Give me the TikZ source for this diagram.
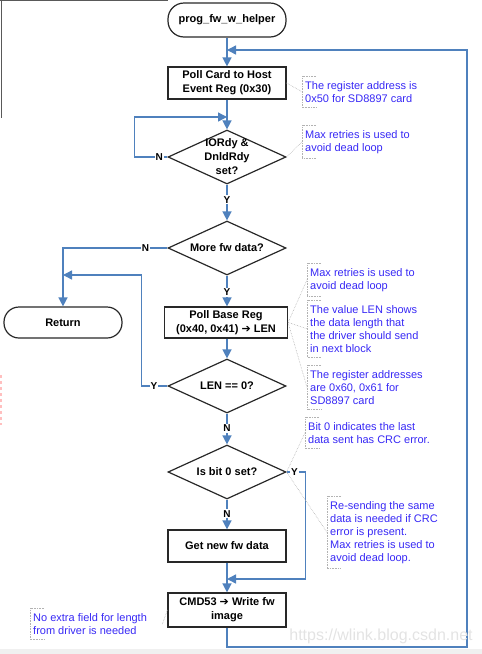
\documentclass[tikz,border=0pt]{standalone}
\usepackage{fontspec}
\setmainfont{Liberation Sans}
\newfontfamily\dv{DejaVu Sans}
\usetikzlibrary{arrows.meta,shapes.geometric,calc}
\definecolor{flow}{RGB}{79,129,189}
\definecolor{annot}{RGB}{55,40,245}
\definecolor{edgec}{RGB}{40,40,40}
\begin{document}
\begin{tikzpicture}[x=1pt,y=-1pt,
 proc/.style={draw=edgec,line width=1.2pt,fill=white,minimum width=118pt,minimum height=32pt,inner sep=0pt,align=center,font=\bfseries\fontsize{11}{14}\selectfont},
 term/.style={proc,rounded corners=16pt},
 dia/.style={diamond,draw=edgec,line width=1.2pt,fill=white,minimum width=118pt,minimum height=54pt,inner sep=0pt},
 dtxt/.style={align=center,font=\bfseries\fontsize{11}{14}\selectfont,inner sep=0pt},
 flowline/.style={draw=flow,line width=1.4pt},
 arr/.style={flowline,-{Triangle[length=9pt,width=9pt]}},
 yn/.style={fill=white,inner sep=1pt,font=\bfseries\fontsize{10}{12}\selectfont},
 note/.style={anchor=north west,align=left,text=annot,inner xsep=3pt,inner ysep=5pt,font=\fontsize{11}{13}\selectfont},
 brk/.style={draw=gray!60,densely dotted,line width=0.6pt},
 lead/.style={draw=gray!60,densely dotted,line width=0.6pt},
]
\useasboundingbox (0,0) rectangle (482,654);
% screenshot frame artefacts
\fill[gray!12] (0,649) rectangle (482,654);
\draw[gray!70!black,line width=1pt] (0,0.8) -- (168,0.8);
\draw[gray!70!black,line width=1pt] (1,0) -- (1,118);
\draw[red!25,dashed,line width=1.2pt] (1,375) -- (1,425);

% flow nodes
\node[term,minimum height=34pt] (start) at (227,20) {prog\_fw\_w\_helper};
\node[proc] (poll1) at (227,83) {Poll Card to Host\\Event Reg (0x30)};
\node[dia] (d1) at (227,157) {};
\node[dtxt] (d1t) at (d1) {IORdy \&\\DnldRdy\\set?};
\node[dia] (d2) at (227,248) {};
\node[dtxt] (d2t) at (d2) {More fw data?};
\node[term,minimum height=31pt,rounded corners=15pt] (ret) at (63,322.5) {Return};
\node[proc,minimum width=123pt,minimum height=31pt] (poll2) at (226,322.5) {Poll Base Reg\\(0x40, 0x41) {\dv\mdseries ➔} LEN};
\node[dia] (d3) at (227,386) {};
\node[dtxt] (d3t) at (d3) {LEN == 0?};
\node[dia] (d4) at (227,472) {};
\node[dtxt] (d4t) at (d4) {Is bit 0 set?};
\node[proc] (getnew) at (227,546) {Get new fw data};
\node[proc,minimum height=34pt] (cmd) at (227,610) {CMD53 {\dv\mdseries ➔} Write fw\\image};

% junction coordinates
\coordinate (j1) at (227,117);
\coordinate (j2) at (63,275);
\coordinate (j3) at (227,579);
\coordinate (j4) at (227,50);
\coordinate (c1) at (467,647);

% main flow
\draw[arr] (start) -- (poll1);
\draw[arr] (poll1) -- (d1);
\draw[arr] (d1.south) -- node[yn,pos=0.42]{Y} (d2.north);
\draw[arr] (d2.south) -- node[yn,pos=0.55]{Y} (d2.south |- poll2.north);
\draw[arr] (d3.north |- poll2.south) -- (d3.north);
\draw[arr] (d3.south) -- node[yn,pos=0.48]{N} (d4.north);
\draw[arr] (d4.south) -- node[yn,pos=0.48]{N} (getnew.north);
\draw[arr] (getnew) -- (cmd);

% loops
\draw[arr] (d1.west) -- node[yn,pos=0.25]{N} ++(-33,0) |- (j1);
\draw[arr] (d2.west) -- node[yn,pos=0.21]{N} (d2.west -| ret.north) -- (ret.north);
\draw[arr] (d3.west) -- node[yn,pos=0.52]{Y} ++(-26,0) |- (j2);
\draw[arr] (d4.east) -- node[yn,pos=0.42]{Y} ++(19,0) |- (j3);
\draw[arr] (cmd.south) |- (c1) |- (j4);

% annotations
\node[note] (a1) at (302,76) {The register address is\\0x50 for SD8897 card};
\node[note] (a2) at (302,125) {Max retries is used to\\avoid dead loop};
\node[note] (a3) at (307,263) {Max retries is used to\\avoid dead loop};
\node[note] (a4) at (307,300) {The value LEN shows\\the data length that\\the driver should send\\in next block};
\node[note] (a5) at (307,365) {The register addresses\\are 0x60, 0x61 for\\SD8897 card};
\node[note] (a6) at (305,417) {Bit 0 indicates the last\\data sent has CRC error.};
\node[note] (a7) at (327,496) {Re-sending the same\\data is needed if CRC\\error is present.\\Max retries is used to\\avoid dead loop.};
\node[note] (a8) at (30,608) {No extra field for length\\from driver is needed};
\foreach \a in {a1,a2,a3,a4,a5,a6,a7,a8}{
  \draw[brk] ([xshift=14pt]\a.north west) -- (\a.north west) -- (\a.south west) -- ([xshift=14pt]\a.south west);
}
\coordinate (c8) at (162,625);
\draw[lead] (poll1.east) -- (a1.west);
\draw[lead] (d1.east) -- (a2.west);
\draw[lead] (poll2.east) -- (a3.west);
\draw[lead] (poll2.east) -- (a4.west);
\draw[lead] (poll2.east) -- (a5.west);
\draw[lead] (d4.east) -- (a6.west);
\draw[lead] (d4.east) -- (a7.west);
\draw[lead] (cmd.west) -- (c8);

% watermark
\node[text=gray!22,font=\fontsize{16}{16}\selectfont,inner sep=0pt] (wm) at (381,636) {https://wlink.blog.csdn.net};
\end{tikzpicture}
\end{document}
